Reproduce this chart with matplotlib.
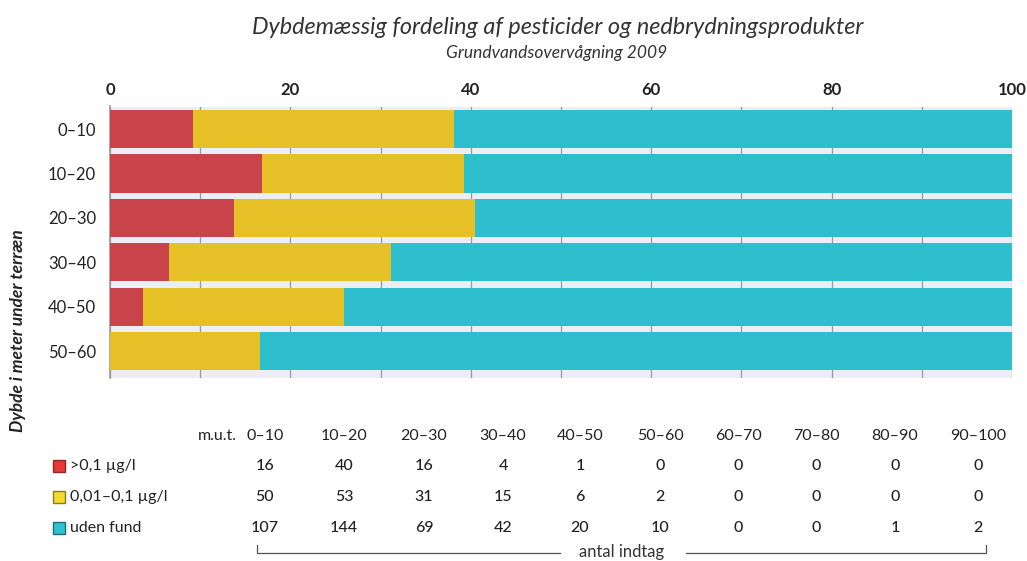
import matplotlib
matplotlib.use("Agg")
import matplotlib.pyplot as plt
import numpy as np

# Data
depths = ["0–10", "10–20", "20–30", "30–40", "40–50", "50–60"]
table_cols = ["0–10", "10–20", "20–30", "30–40", "40–50",
              "50–60", "60–70", "70–80", "80–90", "90–100"]
high = [16, 40, 16, 4, 1, 0, 0, 0, 0, 0]        # >0,1 µg/l
low = [50, 53, 31, 15, 6, 2, 0, 0, 0, 0]        # 0,01–0,1 µg/l
none_found = [107, 144, 69, 42, 20, 10, 0, 0, 1, 2]  # uden fund
series_labels = [">0,1 µg/l", "0,01–0,1 µg/l", "uden fund"]
xticks = [0, 20, 40, 60, 80, 100]

bar_colors = ["#C9434B", "#E6C027", "#2EBFCE"]
legend_colors = ["#E63A33", "#F4DB2C", "#2EC1D0"]
legend_edges = ["#8A2A25", "#8A7A20", "#1E6F78"]

plt.rcParams["font.family"] = ["Lato", "DejaVu Sans"]

fig = plt.figure(figsize=(10.27, 5.61), dpi=100)
ax = fig.add_axes([110 / 1027, 1 - 377.7 / 561, 902 / 1027, (377.7 - 106.5) / 561])

n = len(depths)
counts = np.array([high[:n], low[:n], none_found[:n]], dtype=float)
pct = counts / counts.sum(axis=0) * 100
y = np.arange(n)
left = np.zeros(n)
for i in range(3):
    ax.barh(y, pct[i], left=left, height=0.86, color=bar_colors[i], zorder=3)
    left += pct[i]

ax.set_facecolor("#EDEDF5")
ax.set_xlim(0, 100)
ax.set_ylim(5.6, -0.507)
ax.set_xticks(xticks)
ax.set_xticks(range(0, 101, 10), minor=True)
ax.xaxis.tick_top()
ax.tick_params(axis="x", which="both", length=0, pad=6, labelsize=12, labelcolor="#222222")
for lbl in ax.get_xticklabels():
    lbl.set_fontweight("bold")
ax.grid(True, axis="x", which="both", color="#999999", linewidth=0.9, zorder=1)
ax.set_yticks(y)
ax.set_yticklabels(depths)
ax.tick_params(axis="y", length=0, pad=10, labelsize=12, labelcolor="#222222")
for s in ["top", "right", "bottom"]:
    ax.spines[s].set_visible(False)
ax.spines["left"].set_color("#999999")
ax.spines["left"].set_linewidth(1.2)

fig.text(558 / 1027, 1 - 27 / 561, "Dybdemæssig fordeling af pesticider og nedbrydningsprodukter",
         ha="center", va="center", fontsize=16.8, style="italic", color="#333333")
fig.text(557 / 1027, 1 - 53 / 561, "Grundvandsovervågning 2009",
         ha="center", va="center", fontsize=12.5, style="italic", color="#333333")
fig.text(18 / 1027, 1 - 331 / 561, "Dybde i meter under terræn", rotation=90,
         ha="center", va="center", fontsize=12.5, style="italic", fontweight="bold", color="#222222")

# Table below the chart
col_x = [265, 344, 424, 503, 580, 660, 738, 816, 895, 978]
row_y = [466, 497, 528]
fig.text(237 / 1027, 1 - 436 / 561, "m.u.t.", ha="right", va="center", fontsize=11.5, color="#222222")
for cx, c in zip(col_x, table_cols):
    fig.text(cx / 1027, 1 - 436 / 561, c, ha="center", va="center", fontsize=11.5, color="#222222")
for ry, vals in zip(row_y, [high, low, none_found]):
    for cx, v in zip(col_x, vals):
        fig.text(cx / 1027, 1 - ry / 561, str(v), ha="center", va="center", fontsize=11.5,
                 fontweight="medium", color="#222222")
for ry, lab, fc, ec in zip(row_y, series_labels, legend_colors, legend_edges):
    fig.patches.append(plt.Rectangle((53 / 1027, 1 - (ry + 6) / 561), 12 / 1027, 12 / 561,
                                     transform=fig.transFigure, facecolor=fc, edgecolor=ec,
                                     linewidth=1, figure=fig))
    fig.text(70 / 1027, 1 - ry / 561, lab, ha="left", va="center", fontsize=11.5, color="#222222")

# bracket "antal indtag"
by = 1 - 553 / 561
tb = 1 - 545 / 561
lc = "#555555"
fig.add_artist(plt.Line2D([257 / 1027, 257 / 1027, 560 / 1027], [tb, by, by],
                          transform=fig.transFigure, color=lc, linewidth=0.9))
fig.add_artist(plt.Line2D([686 / 1027, 986 / 1027, 986 / 1027], [by, by, tb],
                          transform=fig.transFigure, color=lc, linewidth=0.9))
fig.text(622 / 1027, 1 - 552 / 561, "antal indtag", ha="center", va="center",
         fontsize=12, color="#333333")

fig.savefig("out.png", dpi=100)
